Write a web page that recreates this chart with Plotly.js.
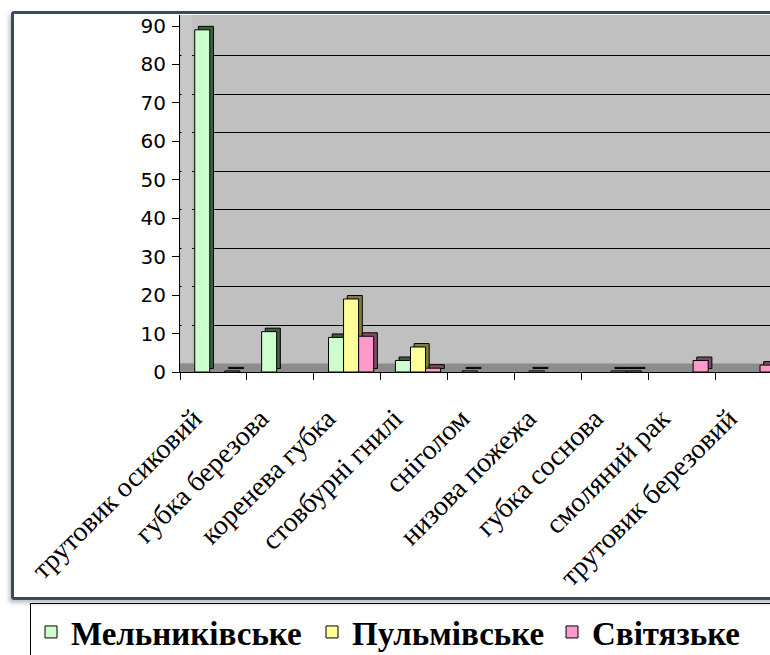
<!DOCTYPE html>
<html>
<head>
<meta charset="utf-8">
<script src="https://cdn.plot.ly/plotly-3.0.1.min.js"></script>
<style>
  html, body { margin: 0; padding: 0; background: #ffffff; overflow: hidden; width: 770px; height: 655px; }
  #wrap { position: relative; width: 960px; height: 655px; }
  #chart { position: absolute; left: 0; top: 0; width: 960px; height: 655px; }
  #frame { position: absolute; left: 11px; top: 11px; width: 1000px; height: 583px;
           border: 3px solid #3d4864; border-radius: 3px; pointer-events: none;
           box-shadow: -2px 3px 4px rgba(0,0,0,0.25); }
</style>
</head>
<body>
<div id="wrap">
  <div id="chart"></div>
  <div id="frame"></div>
</div>
<script>
// ---- data ----
const categories = [
  'трутовик осиковий', 'губка березова', 'коренева губка', 'стовбурні гнилі',
  'сніголом', 'низова пожежа', 'губка соснова', 'смоляний рак', 'трутовик березовий'
];
const seriesNames = ['Мельниківське', 'Пульмівське', 'Світязьке'];
const melnykivske = [89, 10.5, 9, 3, 0.3, 0.3, 0, 0, 0];
const pulmivske   = [0, 0, 19, 6.5, 0, 0, 0.3, 0, 0];
const svitiazke   = [0.3, 0, 9.3, 1, 0, 0, 0.3, 3, 1.8];
const yTicks = [0, 10, 20, 30, 40, 50, 60, 70, 80, 90];

// ---- styling ----
const frontColors = ['#ccffcc', '#ffff99', '#ff99cc'];
const sideColors  = ['#3f5f3f', '#7f7f45', '#7f4c66'];
const offsets = [-0.28, -0.055, 0.17];
const legendWidths = [236, 195, 190];
const barWidth = 0.225;
const depthX = 0.055;   // category units
const depthY = 0.9;     // value units

const allSeries = [melnykivske, pulmivske, svitiazke];
const clean = arr => arr.map(v => (v > 0 ? v : null));

const depthTraces = allSeries.map((vals, i) => ({
  type: 'bar', x: categories, y: clean(vals),
  base: depthY, offset: offsets[i] + depthX, width: barWidth,
  marker: { color: sideColors[i], line: { color: '#000', width: 1 } },
  showlegend: false, hoverinfo: 'skip'
}));
const frontTraces = allSeries.map((vals, i) => ({
  type: 'bar', name: seriesNames[i], x: categories, y: clean(vals),
  offset: offsets[i], width: barWidth, legendwidth: legendWidths[i],
  marker: { color: frontColors[i], line: { color: '#000', width: 1 } }
}));
// carrier for the back-wall gridline axis (draws nothing)
const wallTrace = {
  type: 'scatter', mode: 'markers', x: categories, y: categories.map(() => null),
  yaxis: 'y2', showlegend: false, hoverinfo: 'skip'
};

const W = 960, H = 655;
const plotLeft = 180, plotRight = 950, plotTop = 15, plotBottom = 372;
const catPx = 66.9;
const xMax = -0.5 + (plotRight - plotLeft) / catPx;
const yMax = 92.86;
const wallShift = 2.2;
const plotW = plotRight - plotLeft;

const layout = {
  width: W, height: H,
  margin: { l: plotLeft, r: W - plotRight, t: plotTop, b: H - plotBottom, pad: 0 },
  paper_bgcolor: 'rgba(0,0,0,0)',
  plot_bgcolor: '#c0c0c0',
  barmode: 'overlay',
  showlegend: true,
  xaxis: {
    type: 'category', range: [-0.5, xMax],
    tickangle: -45, tickson: 'boundaries', ticks: 'outside', ticklen: 7, tickcolor: '#000',
    showline: true, linecolor: '#000', linewidth: 1, showgrid: false, zeroline: false,
    ticklabelstandoff: 18, ticklabelshift: -20,
    tickfont: { family: 'Liberation Serif, Times New Roman, serif', size: 28, color: '#000' }
  },
  yaxis: {
    range: [0, yMax], tickvals: yTicks,
    ticks: 'outside', ticklen: 7, tickcolor: '#000',
    showline: true, linecolor: '#000', linewidth: 1, showgrid: false, zeroline: false,
    ticklabelstandoff: 2,
    tickfont: { family: 'DejaVu Sans, sans-serif', size: 20, color: '#000' }
  },
  yaxis2: {
    overlaying: 'y', anchor: 'x', side: 'left', range: [-wallShift, yMax - wallShift],
    tickvals: yTicks.slice(1, 9), showticklabels: false, ticks: '',
    showgrid: true, gridcolor: '#000', gridwidth: 1, zeroline: false, showline: false
  },
  shapes: [
    { type: 'rect', layer: 'between', xref: 'paper', yref: 'y', x0: 0, x1: 1, y0: 0, y1: wallShift,
      fillcolor: '#8c8c8c', line: { width: 0 } },
    { type: 'rect', layer: 'above', xref: 'paper', yref: 'paper', x0: 1.5 / plotW, x1: 12 / plotW, y0: 0.028, y1: 1,
      fillcolor: '#c8c8c8', line: { width: 0 } }
  ],
  legend: {
    orientation: 'h', xref: 'container', yref: 'container',
    x: 30 / W, y: 1 - 603 / H, xanchor: 'left', yanchor: 'top',
    bgcolor: '#ffffff', bordercolor: '#000', borderwidth: 1,
    font: { family: 'Liberation Serif, Times New Roman, serif', size: 33, color: '#000', weight: 'bold' },
    itemwidth: 30, traceorder: 'normal'
  }
};

Plotly.newPlot('chart', depthTraces.concat(frontTraces, [wallTrace]), layout, { displayModeBar: false, staticPlot: true });
</script>
</body>
</html>
